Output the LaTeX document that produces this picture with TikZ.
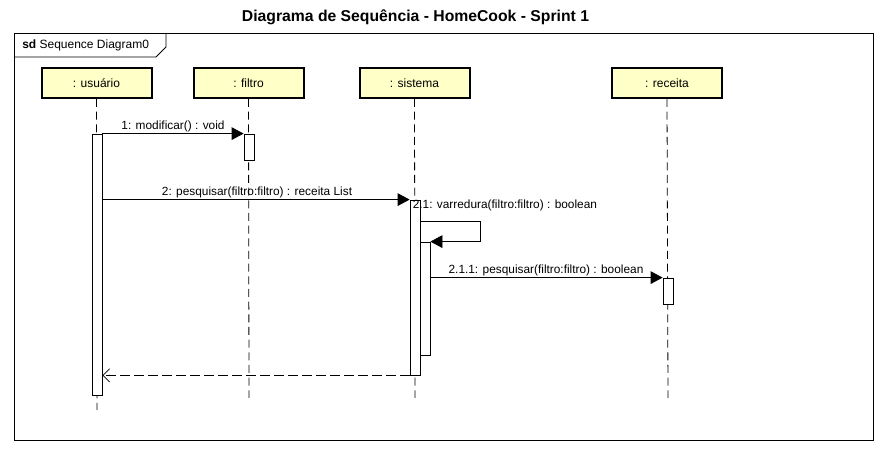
\documentclass[tikz,border=0pt]{standalone}
\usepackage{fontspec}
\setmainfont{Liberation Sans}
\usetikzlibrary{arrows.meta,fit,calc}
\definecolor{headfill}{HTML}{FFFFC8}
\begin{document}
\begin{tikzpicture}[x=0.75pt,y=-0.75pt,
  head/.style={draw=black,line width=1.5pt,fill=headfill,minimum width=82.5pt,minimum height=22.5pt,inner sep=0pt,font=\fontsize{9}{10}\selectfont},
  act/.style={draw=black,fill=white,line width=0.6pt,inner sep=0pt},
  life/.style={line width=0.6pt,dash pattern=on 6pt off 3.5pt},
  msg/.style={line width=0.6pt,-{Triangle[length=9pt,width=9.5pt]}},
  ret/.style={line width=0.6pt,dash pattern=on 7.5pt off 3pt,-{Straight Barb[length=5pt,width=10pt]}},
  lbl/.style={font=\fontsize{8.9}{10}\selectfont,inner sep=0pt}]
\useasboundingbox (0,0) rectangle (886,452);
\fill[white] (0,0) rectangle (886,452);
\node[font=\bfseries\fontsize{11.8}{13}\selectfont] (title) at (415.5,17) {Diagrama de Sequência - HomeCook - Sprint 1};
% frame
\draw[line width=0.6pt] (14,33) rectangle (873,440);
\draw[line width=0.6pt] (14,57) -- (156,57) -- (166,47) -- (166,33);
\node[anchor=west,inner sep=0pt,font=\fontsize{9}{10}\selectfont] (sd) at (22,45.5) {\textbf{sd} Sequence Diagram0};
% heads
\node[head] (hU) at (96.5,83) {: usuário};
\node[head] (hF) at (248.5,83) {: filtro};
\node[head] (hS) at (414.5,83) {: sistema};
\node[head] (hR) at (667,83) {: receita};
% lifelines
\coordinate (eU) at (97,410);
\coordinate (eF) at (249,398);
\coordinate (eS) at (415,398);
\coordinate (eR) at (668,398);
\draw[life] (hU.south) -- (eU);
\draw[life] (hF.south) -- (eF);
\draw[life] (hS.south) -- (eS);
\draw[life] (hR.south) -- (eR);
% activations
\node[act,fit={(92,134)(102,395)}] (aU) {};
\node[act,fit={(244,134)(254,160)}] (aF) {};
\node[act,fit={(410,200)(420,375)}] (aS) {};
\node[act,fit={(420,242)(430,355)}] (aS2) {};
\node[act,fit={(663,278)(673,304)}] (aR) {};
% messages
\draw[msg] (aU.north east) -- (aF.north west);
\node[lbl] (l1) at (173,126.5) {1: modificar() : void};
\draw[msg] (aU.east |- aS.north) -- (aS.north west);
\node[lbl] (l2) at (257,192) {2: pesquisar(filtro:filtro) : receita List};
\draw[msg] ($(aS.north east)+(0,22)$) -- ++(60,0) |- (aS2.north east);
\node[lbl,anchor=west] (l21) at (412.5,205) {2.1: varredura(filtro:filtro) : boolean};
\draw[msg] (aS2.east |- aR.north) -- (aR.north west);
\node[lbl] (l211) at (546,270) {2.1.1: pesquisar(filtro:filtro) : boolean};
\draw[ret] (aS.south west) -- (aU.east |- aS.south);
\end{tikzpicture}
\end{document}
